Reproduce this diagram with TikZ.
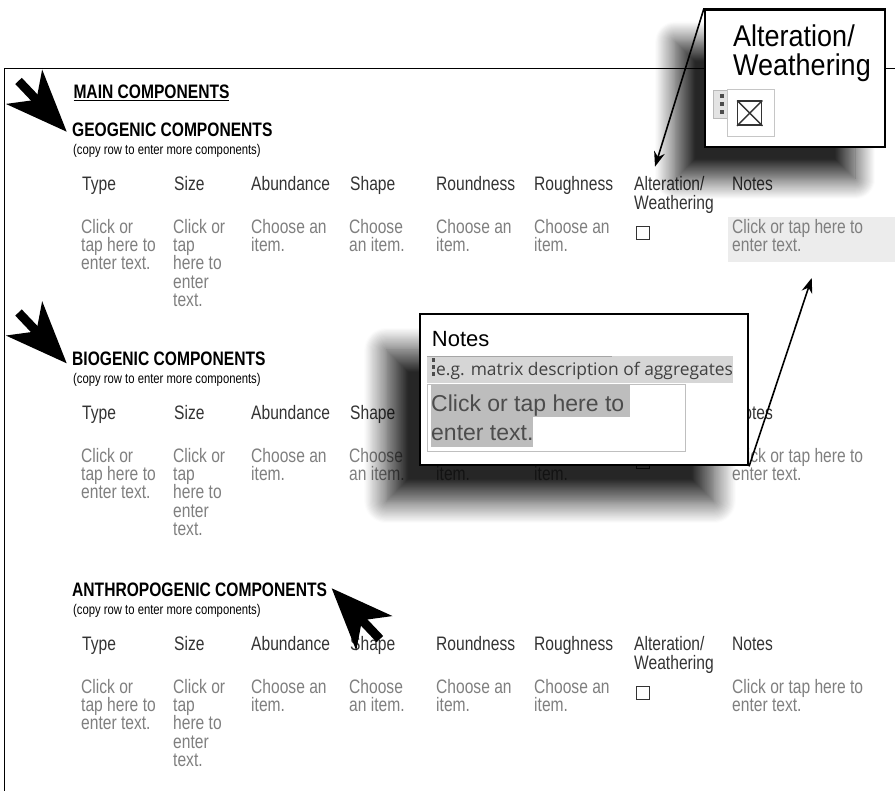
\documentclass[tikz,border=0pt]{standalone}
\usepackage{fontspec}
\setmainfont{Liberation Sans}
\newfontfamily\formfont{Liberation Sans}[FakeStretch=0.8]
\newfontfamily\zoomfont{Liberation Sans}[FakeStretch=0.9]
\newfontfamily\hintfont{Open Sans}
\usetikzlibrary{positioning, shadows.blur, arrows.meta}

\definecolor{labelgray}{HTML}{333333}
\definecolor{fieldgray}{HTML}{7F7F7F}
\definecolor{notefill}{HTML}{ECECEC}
\definecolor{hintfill}{HTML}{D6D6D6}
\definecolor{markfill}{HTML}{BDBDBD}

\tikzstyle{arrow} = [line width=1.6pt,-{Stealth[length=15pt,width=11pt]}]
\tikzstyle{heading} = [anchor=base west, inner sep=0pt, font=\formfont\bfseries\fontsize{19.5}{19.5}\selectfont]
\tikzstyle{copyhint} = [anchor=base west, inner sep=0pt, font=\formfont\fontsize{14.1}{14.1}\selectfont]
\tikzstyle{colhead} = [anchor=north west, inner sep=0pt, align=left, text=labelgray, font=\formfont\fontsize{19.5}{18.3}\selectfont]
\tikzstyle{field} = [colhead, text=fieldgray]
\tikzstyle{tickbox} = [anchor=north west, draw=labelgray, line width=0.9pt, minimum size=13pt, inner sep=0pt]
\tikzstyle{callout} = [anchor=north west, draw=black, line width=2.4pt, fill=white, inner sep=0pt]

\tikzset{
  pics/pointer/.style={code={
    \fill (0,0) -- (62,25) -- (44,0) -- (62,-25) -- cycle;
    \fill (40,-4.5) rectangle (70,4.5);
  }}
}

\begin{document}
\begin{tikzpicture}[x=1pt, y=-1pt]
\useasboundingbox (0,0) rectangle (895,791);

% page edge
\draw[line width=1.4pt] (895,68.5) -- (4.5,68.5) -- (4.5,791);

\node[heading] (main) at (73.3,98.5) {\underline{MAIN COMPONENTS}};
\fill[notefill] (728,216.7) rectangle (895,262);

\foreach \s/\kind/\o in {1/GEOGENIC/0, 2/BIOGENIC/229, 3/ANTHROPOGENIC/460}{
  \node[heading] (kind-\s) at (72,136.7+\o) {\kind{} COMPONENTS};
  \node[copyhint] (copy-\s) at (73,154.5+\o) {(copy row to enter more components)};
  % header row (partly hidden under the notes zoom in row 2)
  \node[colhead] (type-\s) at (82,176.5+\o) {Type};
  \node[colhead] (size-\s) at (174,176.5+\o) {Size};
  \node[colhead] (abund-\s) at (251,176.5+\o) {Abundance};
  \node[colhead] (shape-\s) at (350,176.5+\o) {Shape};
  \ifnum\s=2 \else
    \node[colhead] (round-\s) at (436,176.5+\o) {Roundness};
    \node[colhead] (rough-\s) at (534,176.5+\o) {Roughness};
    \node[colhead] (alter-\s) at (634,176.5+\o) {Alteration/\\Weathering};
  \fi
  \node[colhead] (notes-\s) at (732,176.5+\o) {Notes};
  % entry row
  \node[field] (typef-\s) at (81,219+\o) {Click or\\tap here to\\enter text.};
  \node[field] (sizef-\s) at (173,219+\o) {Click or\\tap\\here to\\enter\\text.};
  \node[field] (abundf-\s) at (251,219+\o) {Choose an\\item.};
  \node[field] (shapef-\s) at (349,219+\o) {Choose\\an item.};
  \node[field] (roundf-\s) at (436,219+\o) {Choose an\\item.};
  \node[field] (roughf-\s) at (534,219+\o) {Choose an\\item.};
  \node[tickbox] (alterf-\s) at (636,226+\o) {};
  \node[field] (notesf-\s) at (732,219+\o) {Click or tap here to\\enter text.};
}

% pointers
\pic[rotate=133.5] at (66.7,131.7) {pointer};
\pic[rotate=133.5] at (66.7,363.3) {pointer};
\pic[rotate=-46.5] at (331.7,588.3) {pointer};

% zoomed checkbox
\node[callout, minimum width=180pt, minimum height=137.5pt,
  blur shadow={shadow xshift=-30pt, shadow yshift=-32pt, shadow blur radius=20pt, shadow opacity=85, shadow blur steps=20}] (altcall) at (704,8.3) {};
\node[anchor=north west, inner sep=0pt, align=left, font=\zoomfont\fontsize{30}{28.3}\selectfont] (alttitle) at (733,25) {Alteration/\\Weathering};
\node[anchor=north west, inner sep=0pt, draw=gray!55, fill=gray!22, minimum width=14pt, minimum height=28pt] (althandle) at (713,90) {};
\foreach \d in {94,102,110}
  \fill[gray!60!black] (719.5,\d) rectangle (723.5,\d+4);
\node[anchor=north west, inner sep=0pt, draw=gray!45, fill=white, line width=0.9pt, minimum width=47pt, minimum height=47pt] (altbox) at (727,89) {};
\node[anchor=north west, inner sep=0pt, draw=black!80, line width=1.4pt, minimum size=24pt] (altmark) at (737,100.5) {};
\draw[line width=1.4pt, black!80] (altmark.north west) -- (altmark.south east) (altmark.north east) -- (altmark.south west);
\coordinate (altpoint) at (655,166.7);
\draw[arrow] (altcall.north west) -- (altpoint);

% zoomed notes field
\node[callout, minimum width=327.7pt, minimum height=151.3pt,
  blur shadow={shadow xshift=-34pt, shadow yshift=-36pt, shadow blur radius=22pt, shadow opacity=85, shadow blur steps=20}] (notecall) at (419,312.7) {};
\node[anchor=base west, inner sep=0pt, font=\fontsize{22}{22}\selectfont] (notetitle) at (431.7,346.7) {Notes};
\fill[hintfill] (427,356) rectangle (733,383);
\draw[gray!70, line width=0.8pt] (427,356) -- (612,356);
\foreach \d in {358.5,365.5,372.5}
  \fill[gray!60!black] (431.5,\d) rectangle (434.5,\d+3.5);
\node[anchor=base west, inner sep=0pt, text=black!75, font=\hintfont\fontsize{17.4}{17.4}\selectfont] (notehint) at (436,375.5) {e.g. matrix description of aggregates};
\node[anchor=north west, inner sep=0pt, draw=gray!50, fill=white, line width=0.9pt, minimum width=258pt, minimum height=67pt] (notefield) at (427,384) {};
\fill[markfill] (431,385.5) rectangle (630,417);
\fill[markfill] (431,417) rectangle (533,447);
\node[anchor=north west, inner sep=0pt, align=left, text=black!70, font=\fontsize{23}{29}\selectfont] (notetext) at (431,395) {Click or tap here to\\enter text.};
\coordinate (notepoint) at (811.7,278);
\draw[arrow] (notecall.south east) -- (notepoint);

\end{tikzpicture}
\end{document}
